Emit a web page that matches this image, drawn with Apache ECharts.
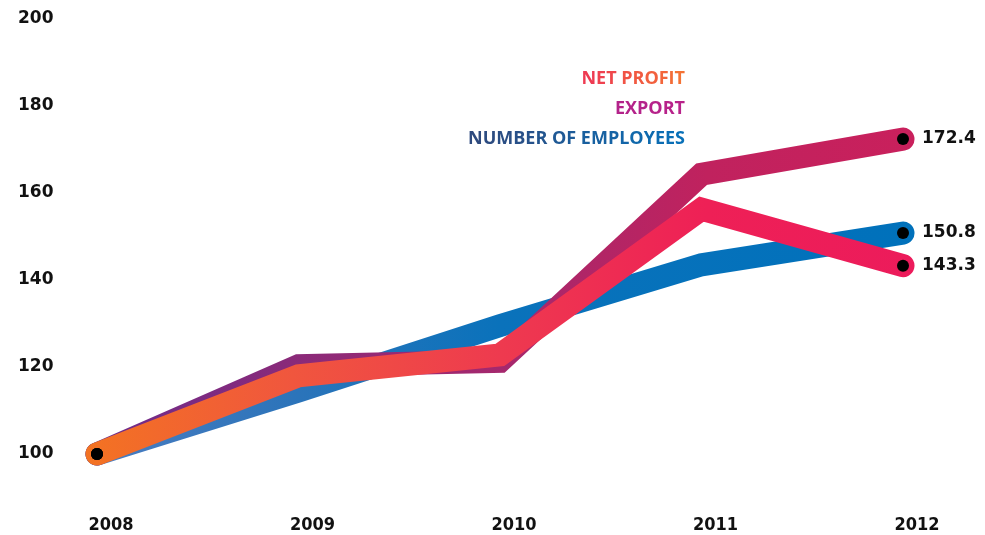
<!DOCTYPE html>
<html><head><meta charset="utf-8">
<script src="https://cdn.jsdelivr.net/npm/echarts@6/dist/echarts.min.js"></script>
<style>html,body{margin:0;padding:0;background:#fff}#c{width:985px;height:535px}</style>
</head><body><div id="c"></div>
<script>
// ---- data ----
const years = ['2008', '2009', '2010', '2011', '2012'];
const netProfit = [100, 118, 122.8, 156.3, 143.3];
const exportVals = [100, 120.3, 121.3, 164.3, 172.4];
const employees = [100, 114.5, 129.5, 143.5, 150.8];
const yTicks = [100, 120, 140, 160, 180, 200];
const legendNames = ['NET PROFIT', 'EXPORT', 'NUMBER OF EMPLOYEES'];

// ---- styles ----
const grad = stops => new echarts.graphic.LinearGradient(0, 0, 1, 0,
  stops.map(s => ({ offset: s[0], color: s[1] })));
const lineColors = {
  net: [[0, '#f37322'], [0.25, '#f0563e'], [0.5, '#ee3a4f'], [0.75, '#ee2056'], [1, '#ec1b5b']],
  exp: [[0, '#6c2c8c'], [0.25, '#8a2a79'], [0.5, '#a5286d'], [0.75, '#c0225e'], [1, '#c9205c']],
  emp: [[0, '#4b7dc1'], [0.25, '#2c74ba'], [0.5, '#0a72bb'], [1, '#0071bb']]
};

function hex2rgb(h) { return [1, 3, 5].map(i => parseInt(h.substr(i, 2), 16)); }
function mix(a, b, t) {
  const A = hex2rgb(a), B = hex2rgb(b);
  return 'rgb(' + A.map((v, i) => Math.round(v + (B[i] - v) * t)).join(',') + ')';
}
function gradText(text, c1, c2, font) {
  let s = '', rich = {};
  const n = text.length;
  for (let i = 0; i < n; i++) {
    const k = 'c' + i;
    rich[k] = { fill: mix(c1, c2, n > 1 ? i / (n - 1) : 0), font: font };
    s += '{' + k + '|' + text[i] + '}';
  }
  return { s, rich };
}
const legendFont = 'bold 18px "Open Sans", "DejaVu Sans", sans-serif';
const lg = [
  gradText(legendNames[0], '#ee3b52', '#f47234', legendFont),
  gradText(legendNames[1], '#b3238a', '#b8228a', legendFont),
  gradText(legendNames[2], '#2e4a7e', '#0870b8', legendFont)
];
const legendY = [79, 109, 139];

function pts(arr) {
  return arr.map((v, i) => (i === 0 || i === arr.length - 1) ? { value: v } : { value: v, symbol: 'none' });
}
const labelFont = { fontFamily: 'DejaVu Sans', fontWeight: 'bold', color: '#111' };

function mkSeries(name, arr, stops) {
  return {
    name: name, type: 'line', data: pts(arr), clip: false,
    symbol: 'circle', symbolSize: 12, showSymbol: true, showAllSymbol: true,
    itemStyle: { color: '#000' },
    lineStyle: { width: 23, color: grad(stops), cap: 'round', join: 'miter', miterLimit: 20 },
    endLabel: {
      show: true, distance: 19, fontSize: 17, ...labelFont,
      formatter: p => Number(p.value).toFixed(1)
    },
    emphasis: { disabled: true },
    silent: true
  };
}

const chart = echarts.init(document.getElementById('c'), null, { renderer: 'canvas' });
chart.setOption({
  animation: false,
  backgroundColor: '#fff',
  grid: { left: 97, right: 82, top: 19, bottom: 81, containLabel: false },
  xAxis: {
    type: 'category', data: years, boundaryGap: false,
    axisLine: { show: false }, axisTick: { show: false }, splitLine: { show: false },
    axisLabel: {
      margin: 62, fontSize: 18, padding: [0, 0, 0, 28],
      fontFamily: '"DejaVu Sans Condensed", "DejaVu Sans", sans-serif', fontWeight: 'bold', color: '#111'
    }
  },
  yAxis: {
    type: 'value', min: yTicks[0], max: yTicks[yTicks.length - 1], interval: yTicks[1] - yTicks[0],
    axisLine: { show: false }, axisTick: { show: false }, splitLine: { show: false },
    axisLabel: { align: 'left', margin: 79, fontSize: 17, ...labelFont }
  },
  series: [
    mkSeries(legendNames[2], employees, lineColors.emp),
    mkSeries(legendNames[1], exportVals, lineColors.exp),
    mkSeries(legendNames[0], netProfit, lineColors.net)
  ],
  graphic: lg.map((t, i) => ({
    type: 'text', x: 685, y: legendY[i], silent: true,
    style: { text: t.s, rich: t.rich, font: legendFont, align: 'right', verticalAlign: 'middle' }
  }))
});
</script></body></html>
